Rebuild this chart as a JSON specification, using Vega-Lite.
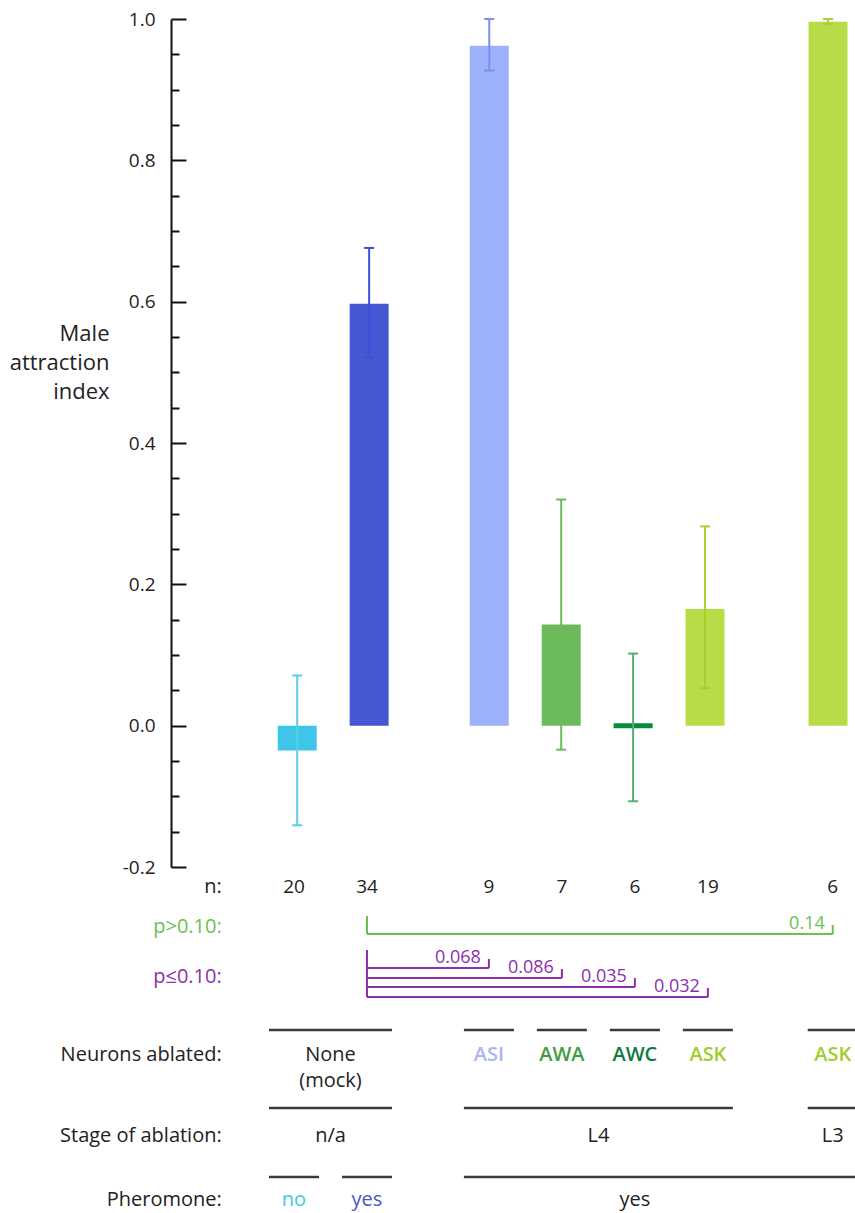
{
  "$schema": "https://vega.github.io/schema/vega-lite/v6.json",
  "padding": {"left": 9, "top": 10, "right": 0, "bottom": 0},
  "background": "white",
  "config": {"view": {"stroke": null}, "font": "Open Sans"},
  "bounds": "flush",
  "spacing": 0,
  "resolve": {"scale": {"fill": "independent", "stroke": "independent"}},
  "datasets": {
    "groups": [
      {"group": "mock_no", "slot": 0, "mean": -0.035, "lo": -0.141, "hi": 0.071, "n": 20},
      {"group": "mock_yes", "slot": 1, "mean": 0.597, "lo": 0.521, "hi": 0.676, "n": 34},
      {"group": "ASI", "slot": 2.67, "mean": 0.962, "lo": 0.927, "hi": 1.0, "n": 9},
      {"group": "AWA", "slot": 3.67, "mean": 0.143, "lo": -0.034, "hi": 0.32, "n": 7},
      {"group": "AWC", "slot": 4.67, "mean": 0.0, "lo": -0.107, "hi": 0.102, "n": 6},
      {"group": "ASK_L4", "slot": 5.67, "mean": 0.165, "lo": 0.053, "hi": 0.282, "n": 19},
      {"group": "ASK_L3", "slot": 7.38, "mean": 0.996, "lo": 0.993, "hi": 1.0, "n": 6}
    ],
    "brackets": [
      {"from": 1, "to": 7.38, "level": 6.7, "p": "0.14", "sig": "ns"},
      {"from": 1, "to": 2.67, "level": 10.1, "p": "0.068", "sig": "sig"},
      {"from": 1, "to": 3.67, "level": 11.1, "p": "0.086", "sig": "sig"},
      {"from": 1, "to": 4.67, "level": 12.0, "p": "0.035", "sig": "sig"},
      {"from": 1, "to": 5.67, "level": 13.0, "p": "0.032", "sig": "sig"}
    ],
    "rowlabels": [
      {"label": "n:", "row": 2, "kind": "plain"},
      {"label": "p>0.10:", "row": 6, "kind": "ns"},
      {"label": "p\u22640.10:", "row": 11, "kind": "sig"},
      {"label": "Neurons ablated:", "row": 18.8, "kind": "plain"},
      {"label": "Stage of ablation:", "row": 26.9, "kind": "plain"},
      {"label": "Pheromone:", "row": 33.3, "kind": "plain"}
    ],
    "tablelines": [
      {"from": 0, "to": 1, "row": 16.3},
      {"from": 2.67, "to": 2.67, "row": 16.3},
      {"from": 3.67, "to": 3.67, "row": 16.3},
      {"from": 4.67, "to": 4.67, "row": 16.3},
      {"from": 5.67, "to": 5.67, "row": 16.3},
      {"from": 7.38, "to": 7.38, "row": 16.3},
      {"from": 0, "to": 1, "row": 24.1},
      {"from": 2.67, "to": 5.67, "row": 24.1},
      {"from": 7.38, "to": 7.38, "row": 24.1},
      {"from": 0, "to": 0, "row": 31.0},
      {"from": 1, "to": 1, "row": 31.0},
      {"from": 2.67, "to": 7.38, "row": 31.0}
    ],
    "tabletext": [
      {"text": "None", "x": 0.5, "row": 18.8, "kind": "plain"},
      {"text": "(mock)", "x": 0.5, "row": 21.4, "kind": "plain"},
      {"text": "ASI", "x": 2.67, "row": 18.8, "kind": "ASI"},
      {"text": "AWA", "x": 3.67, "row": 18.8, "kind": "AWA"},
      {"text": "AWC", "x": 4.67, "row": 18.8, "kind": "AWC"},
      {"text": "ASK", "x": 5.67, "row": 18.8, "kind": "ASK"},
      {"text": "ASK", "x": 7.38, "row": 18.8, "kind": "ASK"},
      {"text": "n/a", "x": 0.5, "row": 26.9, "kind": "plain"},
      {"text": "L4", "x": 4.17, "row": 26.9, "kind": "plain"},
      {"text": "L3", "x": 7.38, "row": 26.9, "kind": "plain"},
      {"text": "no", "x": 0, "row": 33.3, "kind": "mock_no"},
      {"text": "yes", "x": 1, "row": 33.3, "kind": "mock_yes"},
      {"text": "yes", "x": 4.67, "row": 33.3, "kind": "plain"}
    ]
  },
  "vconcat": [
    {
      "width": 685,
      "height": 848,
      "data": {"name": "groups"},
      "encoding": {
        "x": {"field": "slot", "type": "quantitative", "scale": {"domain": [-1.685, 7.699], "nice": false, "zero": false}, "axis": null}
      },
      "resolve": {"axis": {"y": "independent"}},
      "layer": [
        {
          "mark": {"type": "bar", "size": 39},
          "encoding": {
            "y": {
              "field": "mean", "type": "quantitative",
              "scale": {"domain": [-0.2, 1.0], "nice": false, "zero": false},
              "axis": {
                "orient": "left",
                "values": [-0.2, 0, 0.2, 0.4, 0.6, 0.8, 1.0],
                "labelExpr": "replace(format(datum.value, '.1f'), '\u2212', '-')",
                "tickSize": -15,
                "tickWidth": 2,
                "tickColor": "#111111",
                "domainColor": "#111111",
                "domainWidth": 2,
                "grid": false,
                "labelFont": "Open Sans",
                "labelFontSize": 19,
                "labelColor": "#222222",
                "labelPadding": 31,
                "labelOverlap": false,
                "labelFlush": false,
                "title": ["Male", "attraction", "index"],
                "titleAngle": 0,
                "titleAlign": "right",
                "titleBaseline": "top",
                "titleX": -62,
                "titleY": 304,
                "titleFont": "Open Sans",
                "titleFontSize": 22,
                "titleFontWeight": "normal",
                "titleLineHeight": 29,
                "titleColor": "#222222"
              }
            },
            "y2": {"datum": 0},
            "fill": {
              "field": "group", "type": "nominal", "legend": null,
              "scale": {"domain": ["mock_no", "mock_yes", "ASI", "AWA", "AWC", "ASK_L4", "ASK_L3"], "range": ["#3ec5e8", "#4557d1", "#9db0fa", "#6cba5c", "#078a3c", "#b8dc48", "#b8dc48"]}
            }
          }
        },
        {
          "transform": [{"filter": "datum.mean == 0"}],
          "mark": {"type": "tick", "orient": "horizontal", "size": 39, "thickness": 5, "opacity": 1},
          "encoding": {
            "y": {"field": "mean", "type": "quantitative", "axis": null},
            "fill": {"field": "group", "type": "nominal", "legend": null}
          }
        },
        {
          "mark": {"type": "rule", "strokeWidth": 2},
          "encoding": {
            "y": {
              "field": "lo", "type": "quantitative",
              "axis": {
                "orient": "left",
                "values": [-0.15, -0.1, -0.05, 0.05, 0.1, 0.15, 0.25, 0.3, 0.35, 0.45, 0.5, 0.55, 0.65, 0.7, 0.75, 0.85, 0.9, 0.95],
                "labels": false,
                "domain": false,
                "grid": false,
                "tickSize": -8,
                "tickWidth": 2,
                "tickColor": "#111111",
                "title": null
              }
            },
            "y2": {"field": "hi"},
            "stroke": {
              "field": "group", "type": "nominal", "legend": null,
              "scale": {"domain": ["mock_no", "mock_yes", "ASI", "AWA", "AWC", "ASK_L4", "ASK_L3"], "range": ["#5ccde8", "#3b50d6", "#7b90ef", "#6bbb5e", "#55ae75", "#a5d030", "#a8d03a"]}
            }
          }
        },
        {
          "transform": [{"fold": ["lo", "hi"], "as": ["end", "val"]}],
          "mark": {"type": "rule", "strokeWidth": 2, "xOffset": -5, "x2Offset": 5},
          "encoding": {
            "x2": {"field": "slot"},
            "y": {"field": "val", "type": "quantitative", "axis": null},
            "stroke": {"field": "group", "type": "nominal", "legend": null}
          }
        }
      ]
    },
    {
      "width": 685,
      "height": 345,
      "layer": [
        {
          "data": {"name": "groups"},
          "mark": {"type": "text", "fontSize": 19, "baseline": "middle", "color": "#222222"},
          "encoding": {
            "x": {"field": "slot", "type": "quantitative", "scale": {"domain": [-1.685, 7.699], "nice": false, "zero": false}, "axis": null},
            "y": {"datum": 2, "type": "quantitative", "scale": {"domain": [0, 34.5], "reverse": true, "nice": false, "zero": false}, "axis": null},
            "text": {"field": "n", "type": "nominal"}
          }
        },
        {
          "data": {"name": "rowlabels"},
          "mark": {"type": "text", "fontSize": 20, "baseline": "middle", "align": "right"},
          "encoding": {
            "x": {"datum": -0.99, "type": "quantitative"},
            "y": {"field": "row", "type": "quantitative", "axis": null},
            "text": {"field": "label", "type": "nominal"},
            "fill": {"field": "kind", "type": "nominal", "legend": null}
          }
        },
        {
          "data": {"name": "brackets"},
          "layer": [
            {
              "mark": {"type": "rule", "strokeWidth": 2},
              "encoding": {
                "x": {"field": "from", "type": "quantitative"},
                "x2": {"field": "to"},
                "y": {"field": "level", "type": "quantitative", "axis": null},
                "stroke": {"field": "sig", "type": "nominal", "legend": null, "scale": {"domain": ["ns", "sig"], "range": ["#6cbf4e", "#8c30ac"]}}
              }
            },
            {
              "mark": {"type": "rule", "strokeWidth": 2, "yOffset": -18},
              "encoding": {
                "x": {"field": "from", "type": "quantitative"},
                "y": {"field": "level", "type": "quantitative", "axis": null},
                "y2": {"field": "level"},
                "stroke": {"field": "sig", "type": "nominal", "legend": null}
              }
            },
            {
              "mark": {"type": "rule", "strokeWidth": 2, "yOffset": -9},
              "encoding": {
                "x": {"field": "to", "type": "quantitative"},
                "y": {"field": "level", "type": "quantitative", "axis": null},
                "y2": {"field": "level"},
                "stroke": {"field": "sig", "type": "nominal", "legend": null}
              }
            },
            {
              "mark": {"type": "text", "align": "right", "baseline": "alphabetic", "dx": -8, "dy": -5, "fontSize": 18},
              "encoding": {
                "x": {"field": "to", "type": "quantitative"},
                "y": {"field": "level", "type": "quantitative", "axis": null},
                "text": {"field": "p", "type": "nominal"},
                "fill": {"field": "sig", "type": "nominal", "legend": null, "scale": {"domain": ["ns", "sig", "plain", "mock_no", "mock_yes", "ASI", "AWA", "AWC", "ASK"], "range": ["#6cbf4e", "#8c30ac", "#222222", "#45c8e0", "#4b55c8", "#aab6f2", "#3e9e3e", "#107a40", "#a2cc2c"]}}
              }
            }
          ]
        },
        {
          "data": {"name": "tablelines"},
          "mark": {"type": "rule", "strokeWidth": 2.5, "color": "#3a3a3a", "xOffset": -25, "x2Offset": 25},
          "encoding": {
            "x": {"field": "from", "type": "quantitative"},
            "x2": {"field": "to"},
            "y": {"field": "row", "type": "quantitative", "axis": null}
          }
        },
        {
          "data": {"name": "tabletext"},
          "transform": [{"filter": "indexof(['ASI', 'AWA', 'AWC', 'ASK'], datum.kind) < 0"}],
          "mark": {"type": "text", "fontSize": 20, "baseline": "middle"},
          "encoding": {
            "x": {"field": "x", "type": "quantitative"},
            "y": {"field": "row", "type": "quantitative", "axis": null},
            "text": {"field": "text", "type": "nominal"},
            "fill": {"field": "kind", "type": "nominal", "legend": null}
          }
        },
        {
          "data": {"name": "tabletext"},
          "transform": [{"filter": "indexof(['ASI', 'AWA', 'AWC', 'ASK'], datum.kind) >= 0"}],
          "mark": {"type": "text", "fontSize": 20, "baseline": "middle", "fontWeight": 600},
          "encoding": {
            "x": {"field": "x", "type": "quantitative"},
            "y": {"field": "row", "type": "quantitative", "axis": null},
            "text": {"field": "text", "type": "nominal"},
            "fill": {"field": "kind", "type": "nominal", "legend": null}
          }
        }
      ]
    }
  ]
}
